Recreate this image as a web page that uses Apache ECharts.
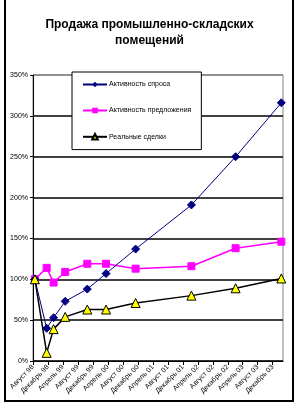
<!DOCTYPE html>
<html>
<head>
<meta charset="utf-8">
<script src="https://cdn.jsdelivr.net/npm/echarts@6/dist/echarts.min.js"></script>
<style>html,body{margin:0;padding:0;background:#fff;}#c{width:299px;height:408px;}</style>
</head>
<body>
<div id="c"></div>
<script>
const titleText = 'Продажа промышленно-складских\nпомещений';
const tickLabels = ['Август 98','Декабрь 98','Апрель 99','Август 99','Декабрь 99','Апрель 00','Август 00','Декабрь 00','Апрель 01','Август 01','Декабрь 01','Апрель 02','Август 02','Декабрь 02','Апрель 03','Август 03','Декабрь 03'];
const tickMonths = [0,4,8,12,16,20,24,28,32,36,40,44,48,52,56,60,64];
// months since start of Aug 1998
const pointMonths = [0.5, 3.65, 5.5, 8.6, 14.5, 19.5, 27.4, 42.3, 54.1, 66.3];
const seriesNames = ['Активность спроса','Активность предложения','Реальные сделки'];
const demand = [100, 40, 53, 73, 88, 107, 137, 191, 250, 316];
const supply = [100, 114, 96, 109, 119, 119, 113, 116, 138, 146];
const deals  = [100, 10, 39, 54, 63, 63, 71, 80, 89, 101];
const yTicks = [0,50,100,150,200,250,300,350];

const pair = (vals) => pointMonths.map((m, i) => [m, vals[i]]);
const FONT = 'Arial, "Liberation Sans", sans-serif';

const chart = echarts.init(document.getElementById('c'), null, {renderer: 'canvas'});
chart.setOption({
  backgroundColor: '#ffffff',
  animation: false,
  textStyle: {fontFamily: FONT},
  title: {
    text: titleText,
    left: 'center',
    top: 17,
    padding: 0,
    textStyle: {fontSize: 12, fontWeight: 'bold', color: '#000', lineHeight: 15.7, fontFamily: FONT}
  },
  graphic: [{
    type: 'rect',
    shape: {x: 5, y: -3, width: 288, height: 404},
    style: {fill: 'none', stroke: '#000', lineWidth: 2},
    silent: true,
    z: 100
  }],
  legend: {
    orient: 'vertical',
    left: 72,
    top: 72,
    width: 124,
    padding: [9, 10, 9, 10],
    itemGap: 19,
    itemWidth: 24,
    itemHeight: 7,
    backgroundColor: '#fff',
    borderColor: '#000',
    borderWidth: 1,
    borderRadius: 0,
    textStyle: {fontSize: 7, color: '#000', fontFamily: FONT, padding: [0,0,0,-3]},
    data: seriesNames
  },
  grid: {
    left: 33, right: 16, top: 75, bottom: 47,
    show: true,
    borderColor: '#808080',
    borderWidth: 1,
    backgroundColor: '#fff'
  },
  xAxis: {
    type: 'value',
    min: 0,
    max: 66.75,
    interval: 4,
    axisLine: {show: true, onZero: false, lineStyle: {color: '#000', width: 1}},
    axisTick: {show: true, length: 4, lineStyle: {color: '#000'}, customValues: tickMonths},
    splitLine: {show: false},
    axisLabel: {
      customValues: tickMonths,
      rotate: 45,
      fontSize: 7,
      color: '#000',
      margin: 5,
      fontFamily: FONT,
      formatter: (v) => { const i = tickMonths.indexOf(Math.round(v)); return i >= 0 ? tickLabels[i] : ''; }
    }
  },
  yAxis: {
    type: 'value',
    min: 0,
    max: 350,
    interval: 50,
    axisLine: {show: true, lineStyle: {color: '#000', width: 1}},
    axisTick: {show: true, length: 3, lineStyle: {color: '#000'}},
    splitLine: {show: true, lineStyle: {color: ['#000','#000','#000','#000','#000','#000','#000','#808080'], width: 1.5}},
    axisLabel: {fontSize: 7, color: '#000', margin: 5, fontFamily: FONT, formatter: '{value}%'}
  },
  series: [
    {
      name: seriesNames[0], type: 'line', data: pair(demand),
      symbol: 'diamond', symbolSize: 8,
      lineStyle: {color: '#000080', width: 1},
      itemStyle: {color: '#000080', borderColor: '#000080'},
      z: 4
    },
    {
      name: seriesNames[1], type: 'line', data: pair(supply),
      symbol: 'rect', symbolSize: 7,
      lineStyle: {color: '#ff00ff', width: 1.5},
      itemStyle: {color: '#ff00ff', borderColor: '#ff00ff'},
      z: 3
    },
    {
      name: seriesNames[2], type: 'line', data: pair(deals),
      symbol: 'triangle', symbolSize: 9,
      lineStyle: {color: '#000', width: 1.5},
      itemStyle: {color: '#ffff00', borderColor: '#000', borderWidth: 1},
      z: 5
    }
  ]
});
</script>
</body>
</html>
